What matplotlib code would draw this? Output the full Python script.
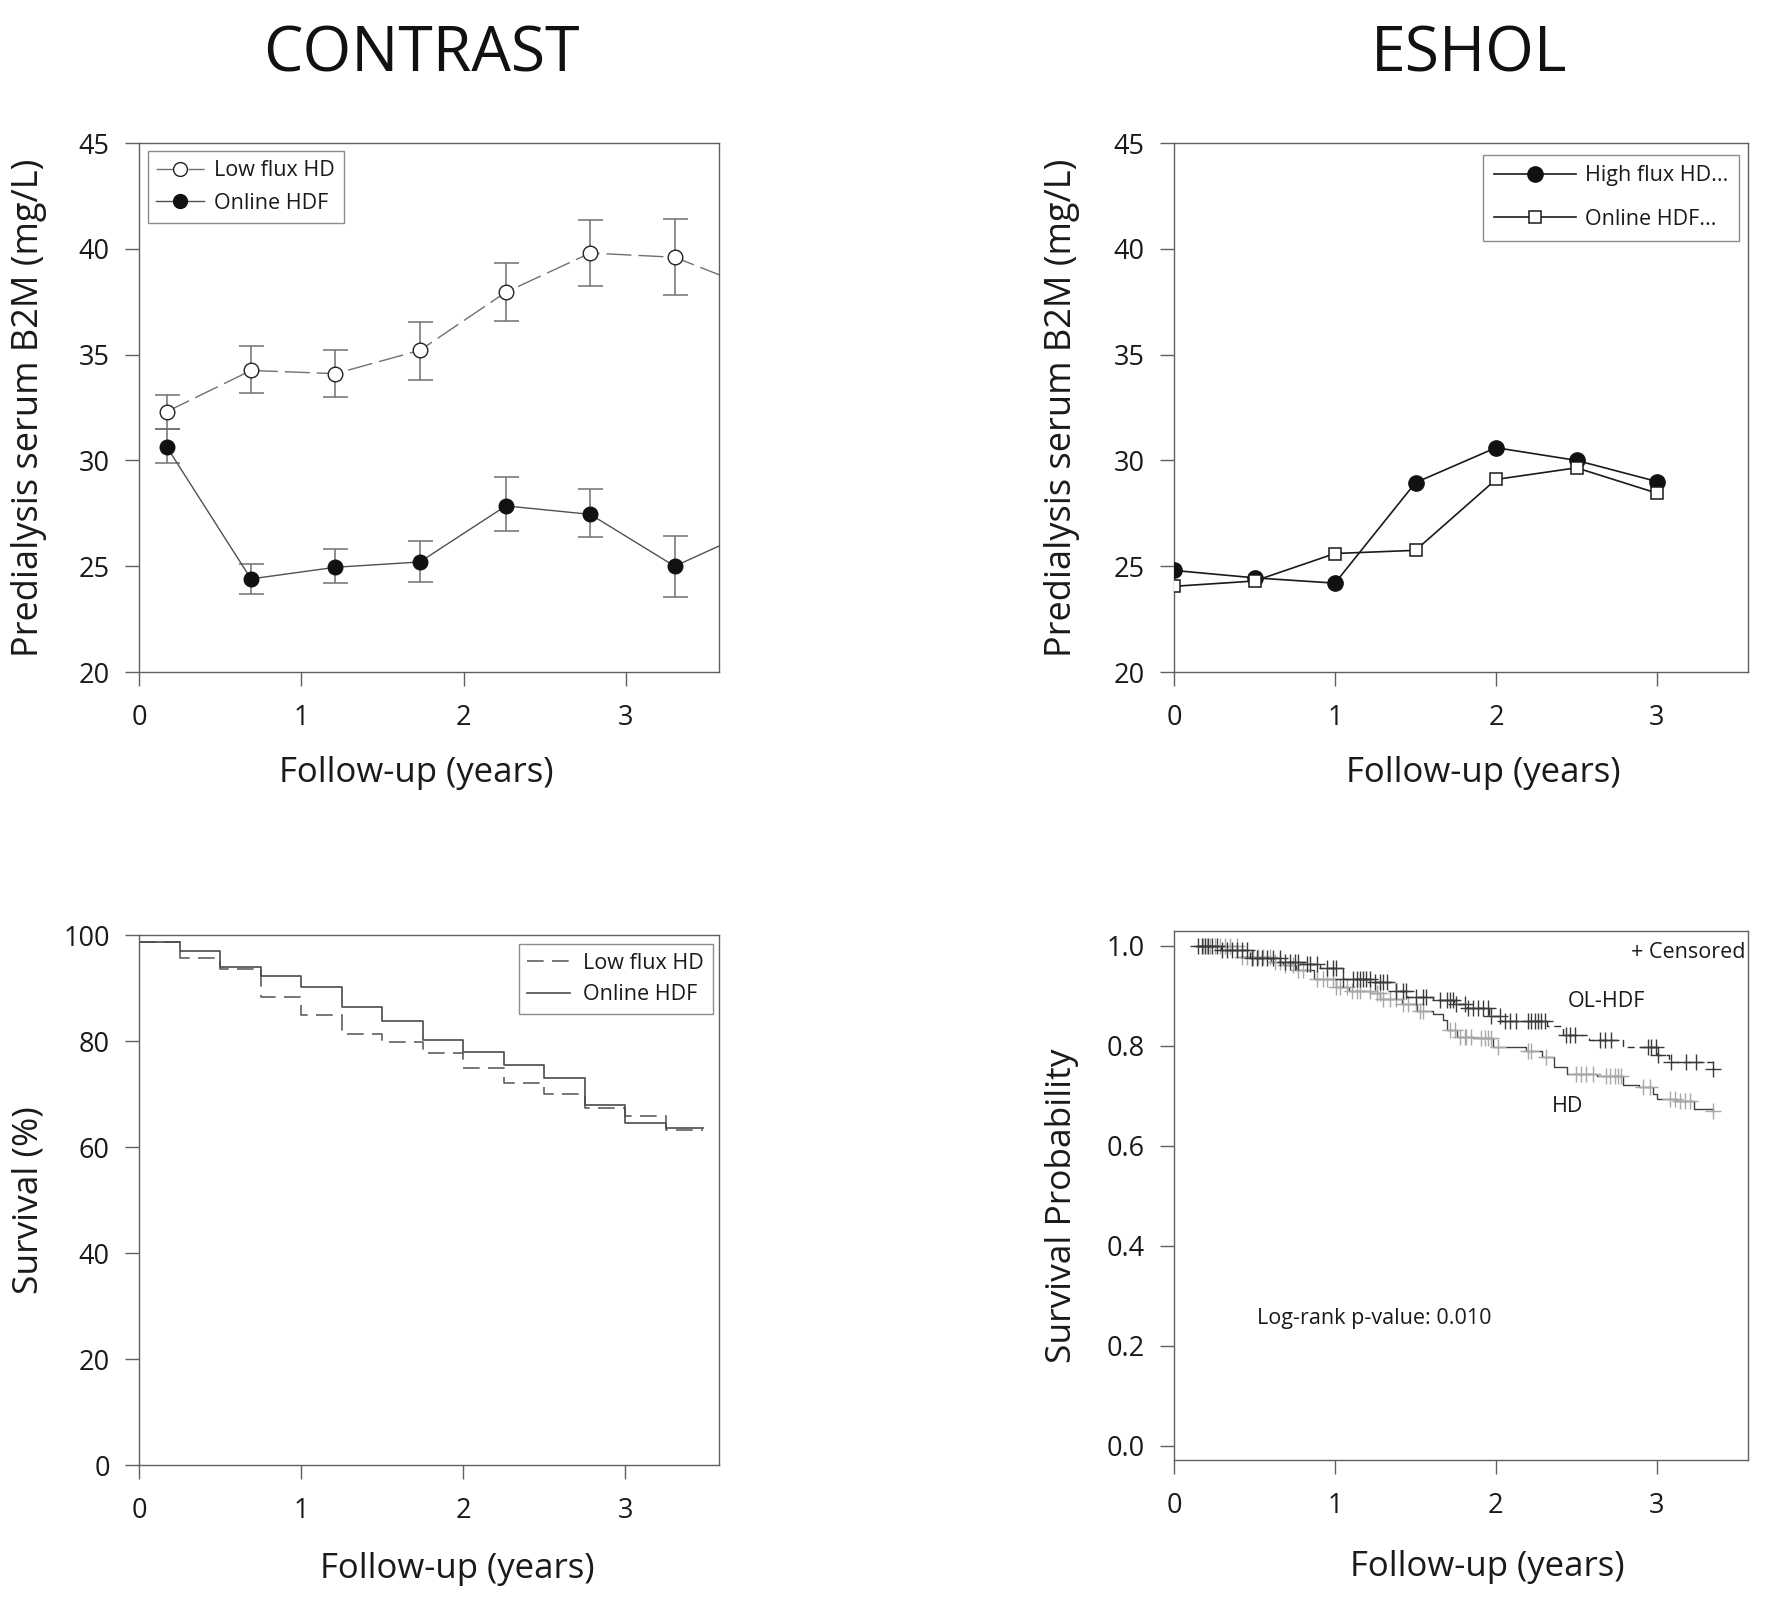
import numpy as np
import matplotlib
matplotlib.use("Agg")
import matplotlib.pyplot as plt

plt.rcParams['font.family'] = ['Open Sans', 'DejaVu Sans']

# ---------------- DATA ----------------
# CONTRAST: predialysis B2M
contrast_x = [0.17, 0.69, 1.21, 1.73, 2.26, 2.78, 3.30, 3.83]
lowflux_mean = [32.3, 34.25, 34.1, 35.2, 37.95, 39.8, 39.6, 38.0]
lowflux_lo = [31.5, 33.2, 33.0, 33.8, 36.6, 38.25, 37.8, 36.5]
lowflux_hi = [33.1, 35.4, 35.2, 36.55, 39.35, 41.35, 41.4, 39.5]
ohdf_c_mean = [30.65, 24.4, 24.95, 25.2, 27.85, 27.45, 25.0, 26.85]
ohdf_c_lo = [29.9, 23.7, 24.2, 24.25, 26.65, 26.4, 23.55, 25.6]
ohdf_c_hi = [31.5, 25.1, 25.8, 26.2, 29.2, 28.65, 26.45, 28.1]

# ESHOL: predialysis B2M
eshol_x = [0, 0.5, 1, 1.5, 2, 2.5, 3]
highflux_b2m = [24.8, 24.45, 24.2, 28.95, 30.6, 30.0, 29.0]
ohdf_e_b2m = [24.05, 24.3, 25.6, 25.75, 29.1, 29.65, 28.45]

# CONTRAST survival (%)
km_c_t = [0, 0.25, 0.5, 0.75, 1.0, 1.25, 1.5, 1.75, 2.0, 2.25, 2.5, 2.75, 3.0, 3.25, 3.48]
km_lowflux = [98.7, 95.6, 93.5, 88.3, 84.9, 81.4, 79.9, 77.7, 74.9, 72.1, 70.0, 67.4, 65.8, 63.3, 63.3]
km_onlinehdf = [98.7, 97.0, 93.9, 92.3, 90.1, 86.5, 83.7, 80.1, 77.9, 75.4, 73.1, 67.9, 64.5, 63.5, 63.5]

# ESHOL survival probability
olhdf_t = [0.14, 0.29, 0.47, 0.66, 0.82, 0.91, 1.05, 1.22, 1.38, 1.45, 1.61, 1.74,
           1.82, 1.96, 2.03, 2.32, 2.42, 2.58, 2.79, 3.00, 3.08, 3.35]
olhdf_s = [1.0, 0.992, 0.977, 0.969, 0.965, 0.957, 0.935, 0.928, 0.911, 0.898, 0.893, 0.884,
           0.877, 0.860, 0.850, 0.840, 0.823, 0.813, 0.798, 0.782, 0.768, 0.755]
olhdf_cens = [0.151, 0.172, 0.193, 0.213, 0.234, 0.265, 0.296, 0.327, 0.358, 0.389, 0.42, 0.451,
              0.482, 0.513, 0.544, 0.575, 0.617, 0.658, 0.689, 0.720, 0.752, 0.772, 0.824, 0.845,
              0.886, 0.948, 0.990, 1.010, 1.052, 1.114, 1.135, 1.155, 1.176, 1.196, 1.217, 1.248,
              1.279, 1.300, 1.321, 1.383, 1.424, 1.445, 1.507, 1.549, 1.569, 1.652, 1.694, 1.714,
              1.735, 1.756, 1.807, 1.828, 1.859, 1.890, 1.921, 1.952, 1.973, 2.025, 2.056, 2.087,
              2.128, 2.201, 2.222, 2.242, 2.263, 2.284, 2.304, 2.439, 2.460, 2.491, 2.646, 2.677,
              2.718, 2.946, 2.967, 2.998, 3.008, 3.091, 3.184, 3.246, 3.350]
hd_t = [0.14, 0.39, 0.60, 0.68, 0.76, 0.87, 1.01, 1.09, 1.22, 1.28, 1.42, 1.51, 1.61, 1.67,
        1.70, 1.76, 1.86, 1.98, 2.19, 2.29, 2.36, 2.44, 2.63, 2.79, 2.89, 2.98, 3.00, 3.12,
        3.23, 3.35]
hd_s = [1.0, 0.979, 0.969, 0.962, 0.952, 0.935, 0.918, 0.911, 0.906, 0.894, 0.884, 0.870,
        0.864, 0.853, 0.833, 0.819, 0.816, 0.798, 0.791, 0.779, 0.758, 0.745, 0.741, 0.723,
        0.719, 0.704, 0.694, 0.690, 0.674, 0.671]
hd_cens = [0.182, 0.203, 0.224, 0.255, 0.286, 0.317, 0.348, 0.389, 0.42, 0.451, 0.482, 0.493,
           0.524, 0.555, 0.596, 0.627, 0.658, 0.689, 0.741, 0.772, 0.803, 0.886, 0.927, 0.948,
           0.990, 1.010, 1.031, 1.073, 1.104, 1.135, 1.155, 1.217, 1.259, 1.279, 1.300, 1.342,
           1.383, 1.424, 1.455, 1.507, 1.528, 1.549, 1.714, 1.745, 1.776, 1.807, 1.818, 1.849,
           1.911, 1.932, 1.952, 1.973, 2.015, 2.201, 2.222, 2.315, 2.501, 2.532, 2.563, 2.604,
           2.687, 2.708, 2.739, 2.760, 2.780, 2.915, 2.956, 3.081, 3.112, 3.143, 3.174, 3.205,
           3.350]

x_ticks = [0, 1, 2, 3]
b2m_ticks = [20, 25, 30, 35, 40, 45]
pct_ticks = [0, 20, 40, 60, 80, 100]
prob_ticks = [0.0, 0.2, 0.4, 0.6, 0.8, 1.0]

# ---------------- FIGURE ----------------
W, H = 1768, 1601
fig = plt.figure(figsize=(W / 100, H / 100), dpi=100)

def px_axes(l, t, r, b):
    return fig.add_axes([l / W, 1 - b / H, (r - l) / W, (b - t) / H])

SP = '#606060'
TXT = '#1a1a1a'

def style(ax, xlim, ylim, yticks, ylabels=None):
    ax.set_xlim(*xlim)
    ax.set_ylim(*ylim)
    ax.set_xticks(x_ticks)
    ax.set_yticks(yticks)
    if ylabels is not None:
        ax.set_yticklabels(ylabels)
    for sp in ax.spines.values():
        sp.set_color(SP)
        sp.set_linewidth(1.0)
    ax.tick_params(direction='out', length=10, width=1.0, color=SP,
                   labelsize=19.5, labelcolor=TXT)
    ax.tick_params(axis='x', pad=13)
    ax.tick_params(axis='y', pad=11)

def labels(ax, xl, yl, xx, xy, yx, yy, ysize=26):
    ax.set_xlabel(xl, fontsize=25, color=TXT, va='center')
    ax.xaxis.set_label_coords(xx, xy)
    ax.set_ylabel(yl, fontsize=ysize, color=TXT, va='center')
    ax.yaxis.set_label_coords(yx, yy)

def frame(leg):
    leg.get_frame().set_linewidth(1.0)
    for t in leg.get_texts():
        t.set_color(TXT)

# ---- Top-left: CONTRAST B2M ----
ax1 = px_axes(139, 143, 718.5, 672)
style(ax1, (0, 3.57), (20, 45), b2m_ticks)
lf_err = [np.array(lowflux_mean) - np.array(lowflux_lo), np.array(lowflux_hi) - np.array(lowflux_mean)]
oh_err = [np.array(ohdf_c_mean) - np.array(ohdf_c_lo), np.array(ohdf_c_hi) - np.array(ohdf_c_mean)]
ax1.errorbar(contrast_x, lowflux_mean, yerr=lf_err, fmt='none', ecolor='#707070',
             elinewidth=1.1, capsize=9, capthick=1.1, zorder=2)
ax1.errorbar(contrast_x, ohdf_c_mean, yerr=oh_err, fmt='none', ecolor='#707070',
             elinewidth=1.1, capsize=9, capthick=1.1, zorder=2)
ax1.plot(contrast_x, lowflux_mean, color='#707070', lw=1.0, dashes=(18, 5),
         marker='o', ms=10.5, mfc='white', mec='#222222', mew=1.0, label='Low flux HD', zorder=3)
ax1.plot(contrast_x, ohdf_c_mean, color='#505050', lw=1.0,
         marker='o', ms=10.5, mfc='#111111', mec='#111111', label='Online HDF', zorder=3)
leg1 = ax1.legend(loc='upper left', bbox_to_anchor=(0.015, 0.984), borderaxespad=0,
                  fontsize=15.5, frameon=True, fancybox=False, edgecolor='#707070',
                  handlelength=2.2, handletextpad=0.5, labelspacing=0.55, borderpad=0.4,
                  markerscale=0.95)
frame(leg1)
labels(ax1, 'Follow-up (years)', 'Predialysis serum B2M (mg/L)', 0.479, -0.191, -0.19, 0.5)

# ---- Top-right: ESHOL B2M ----
ax2 = px_axes(1174, 143, 1748, 672)
style(ax2, (0, 3.565), (20, 45), b2m_ticks)
ax2.plot(eshol_x, highflux_b2m, color='#1a1a1a', lw=1.2, marker='o', ms=11,
         mfc='#111111', mec='#111111', label='High flux HD...', zorder=3)
ax2.plot(eshol_x, ohdf_e_b2m, color='#1a1a1a', lw=1.2, marker='s', ms=9,
         mfc='white', mec='#1a1a1a', mew=1.1, label='Online HDF...', zorder=4)
leg2 = ax2.legend(loc='upper right', bbox_to_anchor=(0.984, 0.978), borderaxespad=0,
                  fontsize=15.5, frameon=True, fancybox=False, edgecolor='#707070',
                  handlelength=3.8, handletextpad=0.4, labelspacing=1.05, borderpad=0.5,
                  markerscale=1.0)
frame(leg2)
labels(ax2, 'Follow-up (years)', 'Predialysis serum B2M (mg/L)', 0.538, -0.191, -0.195, 0.5)

# ---- Bottom-left: CONTRAST survival ----
ax3 = px_axes(139, 935, 718.5, 1465)
style(ax3, (0, 3.575), (0, 100), pct_ticks)
ax3.plot(km_c_t, km_lowflux, drawstyle='steps-post', color='#606060', lw=1.2,
         dashes=(10, 5), label='Low flux HD')
ax3.plot(km_c_t, km_onlinehdf, drawstyle='steps-post', color='#4a4a4a', lw=1.2,
         label='Online HDF')
leg3 = ax3.legend(loc='upper right', bbox_to_anchor=(0.99, 0.983), borderaxespad=0,
                  fontsize=15.5, frameon=True, fancybox=False, edgecolor='#707070',
                  handlelength=2.0, handletextpad=0.6, labelspacing=0.5, borderpad=0.4)
frame(leg3)
labels(ax3, 'Follow-up (years)', 'Survival (%)', 0.55, -0.196, -0.19, 0.5, ysize=25.5)

# ---- Bottom-right: ESHOL survival ----
ax4 = px_axes(1174, 931, 1748, 1460)
style(ax4, (0, 3.568), (-0.028, 1.03), prob_ticks, [f'{v:.1f}' for v in prob_ticks])

def step_at(ts, ss, c):
    idx = np.searchsorted(np.array(ts), np.array(c), side='right') - 1
    idx = np.clip(idx, 0, len(ss) - 1)
    return np.array(ss)[idx]

ax4.plot(hd_t, hd_s, drawstyle='steps-post', color='#404040', lw=1.0, zorder=2)
ax4.plot(hd_cens, step_at(hd_t, hd_s, hd_cens), ls='none', marker='+', ms=11, mew=1.0,
         color='#a8a8a8', zorder=2)
ax4.plot(olhdf_t, olhdf_s, drawstyle='steps-post', color='#303030', lw=1.0,
         dashes=(5, 3.5), zorder=3)
ax4.plot(olhdf_cens, step_at(olhdf_t, olhdf_s, olhdf_cens), ls='none', marker='+', ms=11,
         mew=1.0, color='#3a3a3a', zorder=3)
ax4.text(0.995, 0.960, '+ Censored', transform=ax4.transAxes, ha='right', va='center',
         fontsize=15.5, color=TXT)
ax4.text(2.69, 0.889, 'OL-HDF', ha='center', va='center', fontsize=15.5, color=TXT)
ax4.text(2.447, 0.678, 'HD', ha='center', va='center', fontsize=15.5, color=TXT)
ax4.text(0.516, 0.255, 'Log-rank p-value: 0.010', ha='left', va='center', fontsize=15.5, color=TXT)
labels(ax4, 'Follow-up (years)', 'Survival Probability', 0.545, -0.203, -0.195, 0.48, ysize=25.5)

# ---- Titles ----
fig.text(421.7 / W, 1 - 72 / H, 'CONTRAST', ha='center', va='baseline', fontsize=45, color='#111111')
fig.text(1469 / W, 1 - 72 / H, 'ESHOL', ha='center', va='baseline', fontsize=45, color='#111111')

fig.savefig('out.png', dpi=100, facecolor='white')
